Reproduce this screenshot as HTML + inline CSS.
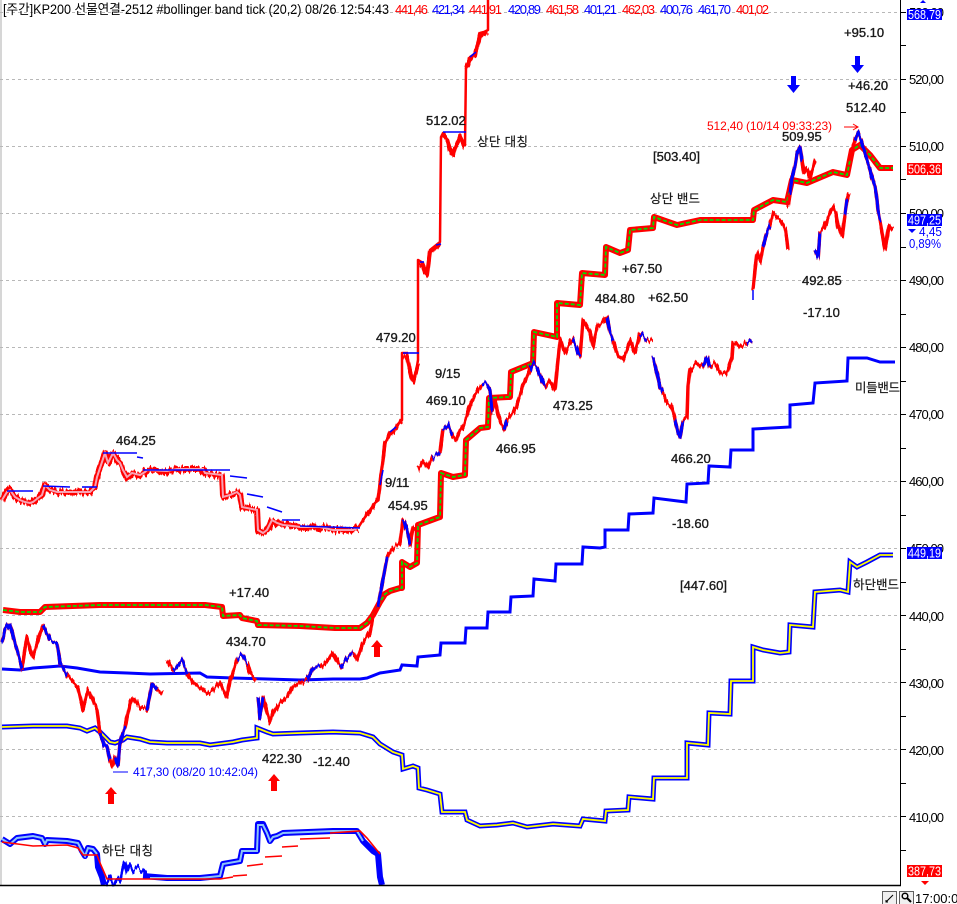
<!DOCTYPE html>
<html><head><meta charset="utf-8"><style>
html,body{margin:0;padding:0;background:#fff;}
svg{display:block;font-family:"Liberation Sans","Noto Sans CJK KR",sans-serif;}
.lb{font-size:13px;fill:#1a1a1a;stroke:#1a1a1a;stroke-width:0.35;}
.ax{font-size:13px;fill:#000;}
</style></head><body>
<svg width="957" height="904" viewBox="0 0 957 904" xmlns="http://www.w3.org/2000/svg">
<defs>
<filter id="jit" x="-5%" y="-5%" width="110%" height="110%">
<feTurbulence type="fractalNoise" baseFrequency="0.45 0.02" numOctaves="2" seed="3" result="n"/>
<feColorMatrix in="n" type="matrix" values="0 0 0 0 0.5  1.4 0 0 0 -0.2  0 0 0 0 0  0 0 0 0 1" result="m"/>
<feDisplacementMap in="SourceGraphic" in2="m" scale="7" xChannelSelector="R" yChannelSelector="G"/>
</filter>
</defs>
<rect width="957" height="904" fill="#fff"/>
<line x1="1" y1="0" x2="1" y2="885" stroke="#c8c8c8" stroke-width="1.5"/>
<!-- gridlines -->
<g stroke="#b8b8b8" stroke-width="1" stroke-dasharray="3,3">
<line x1="0" y1="12.5" x2="900" y2="12.5"/>
<line x1="0" y1="79.5" x2="900" y2="79.5"/>
<line x1="0" y1="146.5" x2="900" y2="146.5"/>
<line x1="0" y1="213.5" x2="900" y2="213.5"/>
<line x1="0" y1="280.5" x2="900" y2="280.5"/>
<line x1="0" y1="347.5" x2="900" y2="347.5"/>
<line x1="0" y1="414.5" x2="900" y2="414.5"/>
<line x1="0" y1="481.5" x2="900" y2="481.5"/>
<line x1="0" y1="548.5" x2="900" y2="548.5"/>
<line x1="0" y1="615.5" x2="900" y2="615.5"/>
<line x1="0" y1="682.5" x2="900" y2="682.5"/>
<line x1="0" y1="749.5" x2="900" y2="749.5"/>
<line x1="0" y1="816.5" x2="900" y2="816.5"/>
</g>

<!-- Series A left pink band -->
<g filter="url(#jit)">
<polyline fill="none" stroke="#ff0000" stroke-width="6" stroke-linejoin="round" points="2,500 7,492 10,490 15,497 20,500 25,502 30,503 33,502 38,498 42,495 45,485 50,490 57,492 67,492 80,492 90,492 95,487 97,477 102,462 105,453 108,463 113,453 117,460 120,463 123,470 127,477 132,473 140,475 145,472 147,470 167,471 177,469 203,469 205,473 222,475 223,497 230,495 237,492 240,495 242,507 247,508 257,510 258,530 263,533 267,530 272,520 277,523 283,525 293,526 300,527 320,527 333,530 353,530 358,528"/>
</g>
<polyline fill="none" stroke="#f7a3b5" stroke-width="2" points="2,500 7,492 10,490 15,497 20,500 25,502 30,503 33,502 38,498 42,495 45,485 50,490 57,492 67,492 80,492 90,492 95,487 97,477 102,462 105,453 108,463 113,453 117,460 120,463 123,470 127,477 132,473 140,475 145,472 147,470 167,471 177,469 203,469 205,473 222,475 223,497 230,495 237,492 240,495 242,507 247,508 257,510 258,530 263,533 267,530 272,520 277,523 283,525 293,526 300,527 320,527 333,530 353,530 358,528"/>
<!-- Series A rising (상단 대칭) -->
<polyline fill="none" stroke="#ff0000" stroke-width="2.5" stroke-linejoin="round" points="358,528 363,520 370,510 375,503 378,500 380,483 382,467 385,443 388,438 390,433 394,430 397,425 402,420 402,353 407,353 409,368 410,373 413,380 416,372 418,360 418,260 423,263 425,270 427,273 430,250 435,246 440,242 441,137 443,133 446,138 448,140 450,147 453,153 455,148 457,143 460,135 463,141 465,145 466,67 468,63 470,57 473,55 475,53 478,42 480,33 484,32 488,30 488,0"/>
<g filter="url(#jit)">
<polyline fill="none" stroke="#ff0000" stroke-width="4" stroke-linejoin="round" points="402,357 407,356 409,368 411,376 413,382 416,372 418,364"/>
<polyline fill="none" stroke="#ff0000" stroke-width="4" stroke-linejoin="round" points="443,135 446,140 448,143 450,150 453,155 455,148 457,145 460,137 463,144 465,147"/>
<polyline fill="none" stroke="#ff0000" stroke-width="4" stroke-linejoin="round" points="418,262 423,265 425,272 427,275 430,252 435,248 440,244"/>
<polyline fill="none" stroke="#ff0000" stroke-width="4" stroke-linejoin="round" points="466,69 468,65 470,59 473,57 475,55 478,44 480,35 484,34 488,32"/>
<polyline fill="none" stroke="#ff0000" stroke-width="3.5" stroke-linejoin="round" points="363,520 370,510 375,503 378,500 380,483 382,467 385,443 388,438 390,433 394,430 397,425 402,420"/>
</g>
<g fill="none" stroke="#0000ff" stroke-width="1.6">
<polyline points="7,491 33,491"/><polyline points="43,486 70,487"/><polyline points="82,487 97,487"/>
<polyline points="103,453 137,453"/><polyline points="137,457 143,458"/><polyline points="143,470 230,470"/>
<polyline points="230,476 247,478"/><polyline points="247,494 263,497"/><polyline points="267,507 282,512"/>
<polyline points="282,520 300,520"/><polyline points="300,526 360,528"/>
<polyline points="403,353 419,353"/><polyline points="443,132 466,132"/>
<polyline points="380,485 383,470"/><polyline points="390,432 396,427"/><polyline points="470,57 476,52"/>
<polyline points="420,262 424,262"/><polyline points="436,245 441,244"/>
</g>

<!-- Upper band -->
<polyline fill="none" stroke="#ff0000" stroke-width="6" stroke-linejoin="round" points="3,610 20,612 40,612 45,607 100,605 200,605 205,605 222,607 223,616 240,615 242,618 257,621 258,625 300,626 335,628 360,628 367,623 373,615 380,602 385,594 390,591 400,588 402,588 402,562 410,567 417,563 418,525 437,518 440,517 441,473 453,477 465,475 466,440 480,428 488,427 489,398 508,397 510,397 511,372 533,363 534,332 557,337 557,303 580,305 582,273 605,275 606,247 620,253 628,250 630,230 653,228 654,217 677,225 700,220 753,220 754,210 773,200 787,202 792,180 807,183 833,172 847,175 852,150 860,145 870,155 880,168 893,168"/>
<polyline fill="none" stroke="#00e000" stroke-width="1.8" stroke-dasharray="4,2" points="3,610 20,612 40,612 45,607 100,605 200,605 205,605 222,607 223,616 240,615 242,618 257,621 258,625 300,626 335,628 360,628 367,623 373,615 380,602 385,594 390,591 400,588 402,588 402,562 410,567 417,563 418,525 437,518 440,517 441,473 453,477 465,475 466,440 480,428 488,427 489,398 508,397 510,397 511,372 533,363 534,332 557,337 557,303 580,305 582,273 605,275 606,247 620,253 628,250 630,230 653,228 654,217 677,225 700,220 753,220 754,210 773,200 787,202 792,180 807,183 833,172 847,175 852,150 860,145 870,155 880,168 893,168"/>

<!-- Middle band -->
<polyline fill="none" stroke="#0000ff" stroke-width="3" stroke-linejoin="miter" points="2,669 20,670 33,668 47,667 60,666 77,668 100,672 127,673 150,674 200,673 207,677 233,678 267,679 300,680 333,679 360,679 367,678 380,673 400,670 402,665 417,666 418,657 440,655 441,643 465,643 466,628 487,628 488,612 510,612 511,597 533,596 534,579 555,581 556,564 582,564 583,547 600,548 605,547 605,530 628,530 629,514 653,513 654,498 686,502 687,484 708,483 709,466 730,467 731,450 753,450 753,429 790,427 790,405 813,403 815,383 847,381 848,358 867,358 880,362 895,362"/>

<!-- Lower band -->
<polyline fill="none" stroke="#0000ff" stroke-width="5" stroke-linejoin="miter" points="2,727 33,726 67,726 80,728 87,731 95,728 100,732 110,742 115,743 123,740 127,737 140,739 150,742 167,743 200,743 210,745 233,742 242,740 257,738 257,728 267,732 273,734 300,733 333,732 360,733 373,737 380,744 393,752 402,755 403,769 413,766 418,768 419,788 427,790 440,794 442,812 447,812 465,812 467,820 480,826 497,825 513,823 527,827 553,824 580,826 583,819 605,821 606,811 628,810 629,797 653,799 654,778 687,778 687,743 708,745 709,713 730,714 731,681 753,681 753,647 763,650 780,653 789,652 790,625 813,627 815,592 840,590 848,592 850,562 857,567 867,562 880,555 893,555"/>
<polyline fill="none" stroke="#ffff00" stroke-width="1.8" points="2,727 33,726 67,726 80,728 87,731 95,728 100,732 110,742 115,743 123,740 127,737 140,739 150,742 167,743 200,743 210,745 233,742 242,740 257,738 257,728 267,732 273,734 300,733 333,732 360,733 373,737 380,744 393,752 402,755 403,769 413,766 418,768 419,788 427,790 440,794 442,812 447,812 465,812 467,820 480,826 497,825 513,823 527,827 553,824 580,826 583,819 605,821 606,811 628,810 629,797 653,799 654,778 687,778 687,743 708,745 709,713 730,714 731,681 753,681 753,647 763,650 780,653 789,652 790,625 813,627 815,592 840,590 848,592 850,562 857,567 867,562 880,555 893,555"/>

<!-- Bottom band H -->
<polyline fill="none" stroke="#0000ff" stroke-width="6" stroke-linejoin="round" points="2,839 10,844 17,838 33,836 42,838 45,844 47,840 67,841 78,843 82,851 85,856 88,848 93,849 97,854 98,867 102,877 104,885"/>
<g filter="url(#jit)">
<polyline fill="none" stroke="#0000ff" stroke-width="3" stroke-linejoin="round" points="106,885 110,876 113,885 117,878 120,882 123,868 125,862 127,873 130,866 133,872 137,868 141,872 143,870 147,877"/>
</g>
<polyline fill="none" stroke="#0000ff" stroke-width="6" stroke-linejoin="round" points="143,876 167,878 200,878 220,876 223,864 240,861 242,851 257,851 258,824 263,824 267,833 270,841 273,837 277,836 283,833 333,831 357,831 363,841 373,851 378,854 380,877 382,885"/>
<polyline fill="none" stroke="#8cc4f8" stroke-width="2" points="2,839 10,844 17,838 33,836 42,838 45,844 47,840 67,841 78,843 82,851 85,856 88,848 93,849 97,854"/>
<polyline fill="none" stroke="#8cc4f8" stroke-width="2" points="150,878 200,878 220,876 223,864 240,861 242,851 257,851 258,825 263,825 267,833 270,841 273,837 277,836 283,833 333,831 357,831 363,841"/>
<g fill="none" stroke="#ff0000" stroke-width="1.6">
<polyline points="2,842 33,846 67,845 78,848 83,855 97,855 100,863 107,879 147,879 220,879 233,877"/>
<polyline points="233,876 247,875"/><polyline points="247,866 263,864"/><polyline points="265,857 282,856"/>
<polyline points="282,847 298,846"/><polyline points="300,839 330,838"/><polyline points="330,833 360,831 367,838 380,854"/>
</g>

<!-- Main price red -->
<g filter="url(#jit)">
<polyline fill="none" stroke="#ff0000" stroke-width="3.5" stroke-linejoin="round" points="2,643 5,630 10,623 15,643 20,660 22,667 27,637 30,650 33,658 37,643 43,625 50,640 57,643 60,663 67,675 72,680 78,687 83,710 88,690 93,700 97,710 100,733 104,745 107,747 110,760 112,767 115,757 118,765 120,743 125,727 130,703 133,698 140,707 147,710 152,683 157,690 163,693"/>
<polyline fill="none" stroke="#ff0000" stroke-width="3.5" stroke-linejoin="round" points="167,660 173,670 182,660 187,673 193,683 200,687 207,693 213,690 220,683 227,697 230,680 237,660 242,655 247,663 250,673 253,677 256,680"/>
<polyline fill="none" stroke="#ff0000" stroke-width="3.5" stroke-linejoin="round" points="258,697 260,717 263,697 267,713 270,723 273,713 280,703 287,697 293,687 300,683 307,680 313,667 320,667 327,660 333,653 340,667 347,658 353,653 357,660 363,643 370,633 373,617 378,607 380,595 383,580 387,557 393,548 400,543 403,520 407,530 410,545 413,527 417,528"/>
<polyline fill="none" stroke="#ff0000" stroke-width="3.5" stroke-linejoin="round" points="418,470 423,462 428,468 432,458 437,455 440,452 443,430 448,425 452,435 456,440 460,430 463,427 467,415 470,405 475,395 478,390 482,385 487,385 490,390 492,410 495,400 498,415 501,425 504,430 507,420 510,415 513,413 517,405 520,395 523,385 527,378 530,370 533,363 537,367 542,380 545,387 550,380 555,390 557,370 560,340 565,353 570,343 573,340 580,357 583,320 590,333 593,347 597,327 603,323 607,317 610,333 613,340 618,357 623,360 627,350 630,340 635,353 640,333 647,340 653,340"/>
<polyline fill="none" stroke="#ff0000" stroke-width="3.5" stroke-linejoin="round" points="653,357 657,373 660,387 663,393 667,403 672,407 675,420 678,433 680,437 683,420 687,417 688,387 690,370 697,363 703,367 707,357 710,367 715,363 720,373 727,373 732,357 733,342 740,347 747,343 752,340"/>
<polyline fill="none" stroke="#ff0000" stroke-width="3.5" stroke-linejoin="round" points="753,290 755,270 757,253 760,262 763,247 765,240 767,233 770,225 773,213 777,218 780,220 783,225 785,227 787,240 788,250"/>
<polyline fill="none" stroke="#ff0000" stroke-width="3.5" stroke-linejoin="round" points="788,207 790,195 792,177 795,165 797,153 800,147 802,160 804,173 807,168 810,177 813,167 815,160"/>
<polyline fill="none" stroke="#ff0000" stroke-width="3.5" stroke-linejoin="round" points="815,250 818,258 820,233 823,230 827,220 830,212 833,207 836,215 838,227 842,237 845,215 847,200 849,193"/>
<polyline fill="none" stroke="#ff0000" stroke-width="3.5" stroke-linejoin="round" points="850,160 852,150 855,140 858,132 861,140 863,147 867,160 870,170 872,177 875,187 877,200 878,210 880,222 882,233 885,250 887,237 889,225 890,227 893,230"/>
</g>
<!-- Blue overlays -->
<g fill="none" stroke="#0000ff" stroke-width="3" stroke-linejoin="round" filter="url(#jit)">
<polyline points="2,643 5,630 10,623 15,643 20,660 22,667"/>
<polyline points="43,625 50,640 57,643 60,663 67,675"/>
<polyline points="100,733 104,745 107,747 110,760"/>
<polyline points="115,757 118,765 120,743 125,727"/>
<polyline points="147,710 152,683 157,690"/>
<polyline points="173,670 182,660 187,673"/>
<polyline points="237,660 242,655 247,663"/>
<polyline points="258,697 260,717 263,697"/>
<polyline points="307,680 313,667 320,667"/>
<polyline points="340,667 347,658 353,653"/>
<polyline points="378,607 380,595 383,580 387,557"/>
<polyline points="403,520 407,530 410,545"/>
<polyline points="432,458 437,455 440,452"/>
<polyline points="443,430 448,425 452,435"/>
<polyline points="482,385 487,385 490,390 492,410"/>
<polyline points="504,430 507,420"/>
<polyline points="530,370 533,363 537,367 542,380 545,387"/>
<polyline points="573,340 580,357"/>
<polyline points="607,317 610,333 613,340"/>
<polyline points="640,333 647,340"/>
<polyline points="653,357 657,373 660,387 663,393"/>
<polyline points="675,420 678,433 680,437 683,420"/>
<polyline points="703,367 707,357 710,367"/>
<polyline points="747,343 752,340"/>
<polyline points="763,247 765,240 767,233 770,225"/>
<polyline points="790,195 792,177 795,165 797,153 800,147 802,160"/>
<polyline points="815,250 818,258 820,233"/>
<polyline points="845,215 847,200"/>
<polyline points="855,140 858,132 861,140 863,147 867,160 870,170 872,177 875,187 877,200 878,210 880,222"/>
</g>
<line x1="753" y1="290" x2="753" y2="300" stroke="#0000ff" stroke-width="1.5"/>

<!-- red up arrows -->
<g fill="#ff0000">
<polygon points="111,787 117,794 114,794 114,804 108,804 108,794 105,794"/>
<polygon points="274,774 280,781 277,781 277,791 271,791 271,781 268,781"/>
<polygon points="377,640 383,647 380,647 380,657 374,657 374,647 371,647"/>
</g>
<!-- blue down arrows -->
<g fill="#0000ff">
<polygon points="791,76 796,76 796,85 800,85 793.5,93 787,85 791,85"/>
<polygon points="855,56 860,56 860,65 864,65 857.5,73 851,65 855,65"/>
</g>

<!-- labels -->
<g class="lb">
<text x="116" y="445">464.25</text>
<text x="229" y="597">+17.40</text>
<text x="226" y="646">434.70</text>
<text x="262" y="763">422.30</text>
<text x="313" y="766">-12.40</text>
<text x="376" y="342">479.20</text>
<text x="426" y="125">512.02</text>
<text x="435" y="378">9/15</text>
<text x="426" y="405">469.10</text>
<text x="553" y="410">473.25</text>
<text x="496" y="453">466.95</text>
<text x="385" y="487">9/11</text>
<text x="388" y="510">454.95</text>
<text x="671" y="463">466.20</text>
<text x="672" y="528">-18.60</text>
<text x="680" y="590">[447.60]</text>
<text x="595" y="303">484.80</text>
<text x="622" y="273">+67.50</text>
<text x="648" y="302">+62.50</text>
<text x="653" y="161">[503.40]</text>
<text x="782" y="141">509.95</text>
<text x="846" y="112">512.40</text>
<text x="848" y="90">+46.20</text>
<text x="844" y="37">+95.10</text>
<text x="802" y="285">492.85</text>
<text x="803" y="317">-17.10</text>
</g>
<g font-size="12.5" fill="#1a1a1a" stroke="#1a1a1a" stroke-width="0.2" font-family="'Liberation Sans','Noto Sans CJK KR',sans-serif">
<text x="102" y="855" textLength="51">하단 대칭</text>
<text x="477" y="146" textLength="51">상단 대칭</text>
<text x="650" y="203" textLength="50">상단 밴드</text>
<text x="855" y="392" textLength="45">미들밴드</text>
<text x="853" y="589" textLength="46">하단밴드</text>
</g>
<text x="133" y="776" font-size="12" fill="#0000ff" textLength="125">417,30 (08/20 10:42:04)</text>
<line x1="113" y1="772" x2="128" y2="772" stroke="#0000ff" stroke-width="1"/>
<text x="707" y="130" font-size="12" fill="#ff0000" textLength="125">512,40 (10/14 09:33:23)</text>
<line x1="844" y1="127" x2="858" y2="127" stroke="#ff0000" stroke-width="1"/>
<polyline points="853,124 858,127 853,130" fill="none" stroke="#ff0000" stroke-width="1"/>

<!-- title -->
<text x="3" y="14" font-size="13.5" fill="#000" textLength="386" lengthAdjust="spacingAndGlyphs">[주간]KP200 선물연결-2512 #bollinger band tick  (20,2) 08/26 12:54:43</text>
<g font-size="13" lengthAdjust="spacingAndGlyphs">
<text x="395" y="14" fill="#ff0000" textLength="33">441,46</text>
<text x="432" y="14" fill="#0000ff" textLength="33">421,34</text>
<text x="469" y="14" fill="#ff0000" textLength="33">441,91</text>
<text x="508" y="14" fill="#0000ff" textLength="33">420,89</text>
<text x="546" y="14" fill="#ff0000" textLength="33">461,58</text>
<text x="584" y="14" fill="#0000ff" textLength="33">401,21</text>
<text x="622" y="14" fill="#ff0000" textLength="33">462,03</text>
<text x="660" y="14" fill="#0000ff" textLength="33">400,76</text>
<text x="698" y="14" fill="#0000ff" textLength="33">461,70</text>
<text x="736" y="14" fill="#ff0000" textLength="33">401,02</text>
</g>

<!-- axes -->
<line x1="900.5" y1="0" x2="900.5" y2="885" stroke="#000" stroke-width="1"/>
<line x1="0" y1="885.5" x2="901" y2="885.5" stroke="#000" stroke-width="1.5"/>
<g stroke="#000" stroke-width="1">
<line x1="900" y1="850.5" x2="906" y2="850.5"/><line x1="900" y1="816.5" x2="906" y2="816.5"/>
<line x1="900" y1="783.5" x2="906" y2="783.5"/><line x1="900" y1="749.5" x2="906" y2="749.5"/>
<line x1="900" y1="716.5" x2="906" y2="716.5"/><line x1="900" y1="682.5" x2="906" y2="682.5"/>
<line x1="900" y1="649.5" x2="906" y2="649.5"/><line x1="900" y1="615.5" x2="906" y2="615.5"/>
<line x1="900" y1="582.5" x2="906" y2="582.5"/><line x1="900" y1="548.5" x2="906" y2="548.5"/>
<line x1="900" y1="515.5" x2="906" y2="515.5"/><line x1="900" y1="481.5" x2="906" y2="481.5"/>
<line x1="900" y1="448.5" x2="906" y2="448.5"/><line x1="900" y1="414.5" x2="906" y2="414.5"/>
<line x1="900" y1="381.5" x2="906" y2="381.5"/><line x1="900" y1="347.5" x2="906" y2="347.5"/>
<line x1="900" y1="314.5" x2="906" y2="314.5"/><line x1="900" y1="280.5" x2="906" y2="280.5"/>
<line x1="900" y1="247.5" x2="906" y2="247.5"/><line x1="900" y1="213.5" x2="906" y2="213.5"/>
<line x1="900" y1="179.5" x2="906" y2="179.5"/><line x1="900" y1="146.5" x2="906" y2="146.5"/>
<line x1="900" y1="112.5" x2="906" y2="112.5"/><line x1="900" y1="79.5" x2="906" y2="79.5"/>
<line x1="900" y1="45.5" x2="906" y2="45.5"/><line x1="900" y1="12.5" x2="906" y2="12.5"/>
</g>
<g class="ax" lengthAdjust="spacingAndGlyphs">
<text x="909" y="17" textLength="35">530,00</text>
<text x="909" y="84" textLength="35">520,00</text>
<text x="909" y="151" textLength="35">510,00</text>
<text x="909" y="218" textLength="35">500,00</text>
<text x="909" y="285" textLength="35">490,00</text>
<text x="909" y="352" textLength="35">480,00</text>
<text x="909" y="419" textLength="35">470,00</text>
<text x="909" y="486" textLength="35">460,00</text>
<text x="909" y="553" textLength="35">450,00</text>
<text x="909" y="621" textLength="35">440,00</text>
<text x="909" y="688" textLength="35">430,00</text>
<text x="909" y="755" textLength="35">420,00</text>
<text x="909" y="822" textLength="35">410,00</text>
</g>
<!-- value boxes -->
<polygon points="920,3 926,3 923,0" fill="#0000ff"/>
<rect x="907" y="9" width="35" height="11" fill="#0000ff"/>
<text x="908" y="19" font-size="12.5" fill="#fff" textLength="33" lengthAdjust="spacingAndGlyphs">568,79</text>
<rect x="907" y="163" width="35" height="12" fill="#ff0000"/>
<text x="908" y="173.5" font-size="12.5" fill="#fff" textLength="33" lengthAdjust="spacingAndGlyphs">506,36</text>
<rect x="907" y="214" width="35" height="12" fill="#0000ff"/>
<text x="908" y="224.5" font-size="12.5" fill="#fff" textLength="33" lengthAdjust="spacingAndGlyphs">497,25</text>
<polygon points="908,229 916,229 912,233" fill="#0000ff"/>
<text x="919" y="236" font-size="13" fill="#0000ff" textLength="23" lengthAdjust="spacingAndGlyphs">4,45</text>
<text x="909" y="248" font-size="13" fill="#0000ff" textLength="32" lengthAdjust="spacingAndGlyphs">0,89%</text>
<rect x="907" y="547" width="35" height="12" fill="#0000ff"/>
<text x="908" y="557.5" font-size="12.5" fill="#fff" textLength="33" lengthAdjust="spacingAndGlyphs">449,19</text>
<rect x="907" y="865" width="35" height="12" fill="#ff0000"/>
<text x="908" y="875.5" font-size="12.5" fill="#fff" textLength="33" lengthAdjust="spacingAndGlyphs">387,73</text>
<polygon points="921,881 929,881 925,885" fill="#ff0000"/>

<!-- bottom strip -->
<rect x="882.5" y="891.5" width="14" height="13" fill="#f0f0f0" stroke="#606060" stroke-width="1"/>
<path d="M886,902 L893,895 M888,902 L886,902 L886,900" stroke="#000" stroke-width="1" fill="none"/>
<rect x="899.5" y="891.5" width="14" height="13" fill="#f0f0f0" stroke="#606060" stroke-width="1"/>
<circle cx="905" cy="896" r="2.8" fill="none" stroke="#000" stroke-width="1.5"/>
<line x1="907" y1="898" x2="911" y2="902" stroke="#000" stroke-width="2"/>
<text x="915" y="903" font-size="13" fill="#000">17:00:00</text>
</svg>
</body></html>
